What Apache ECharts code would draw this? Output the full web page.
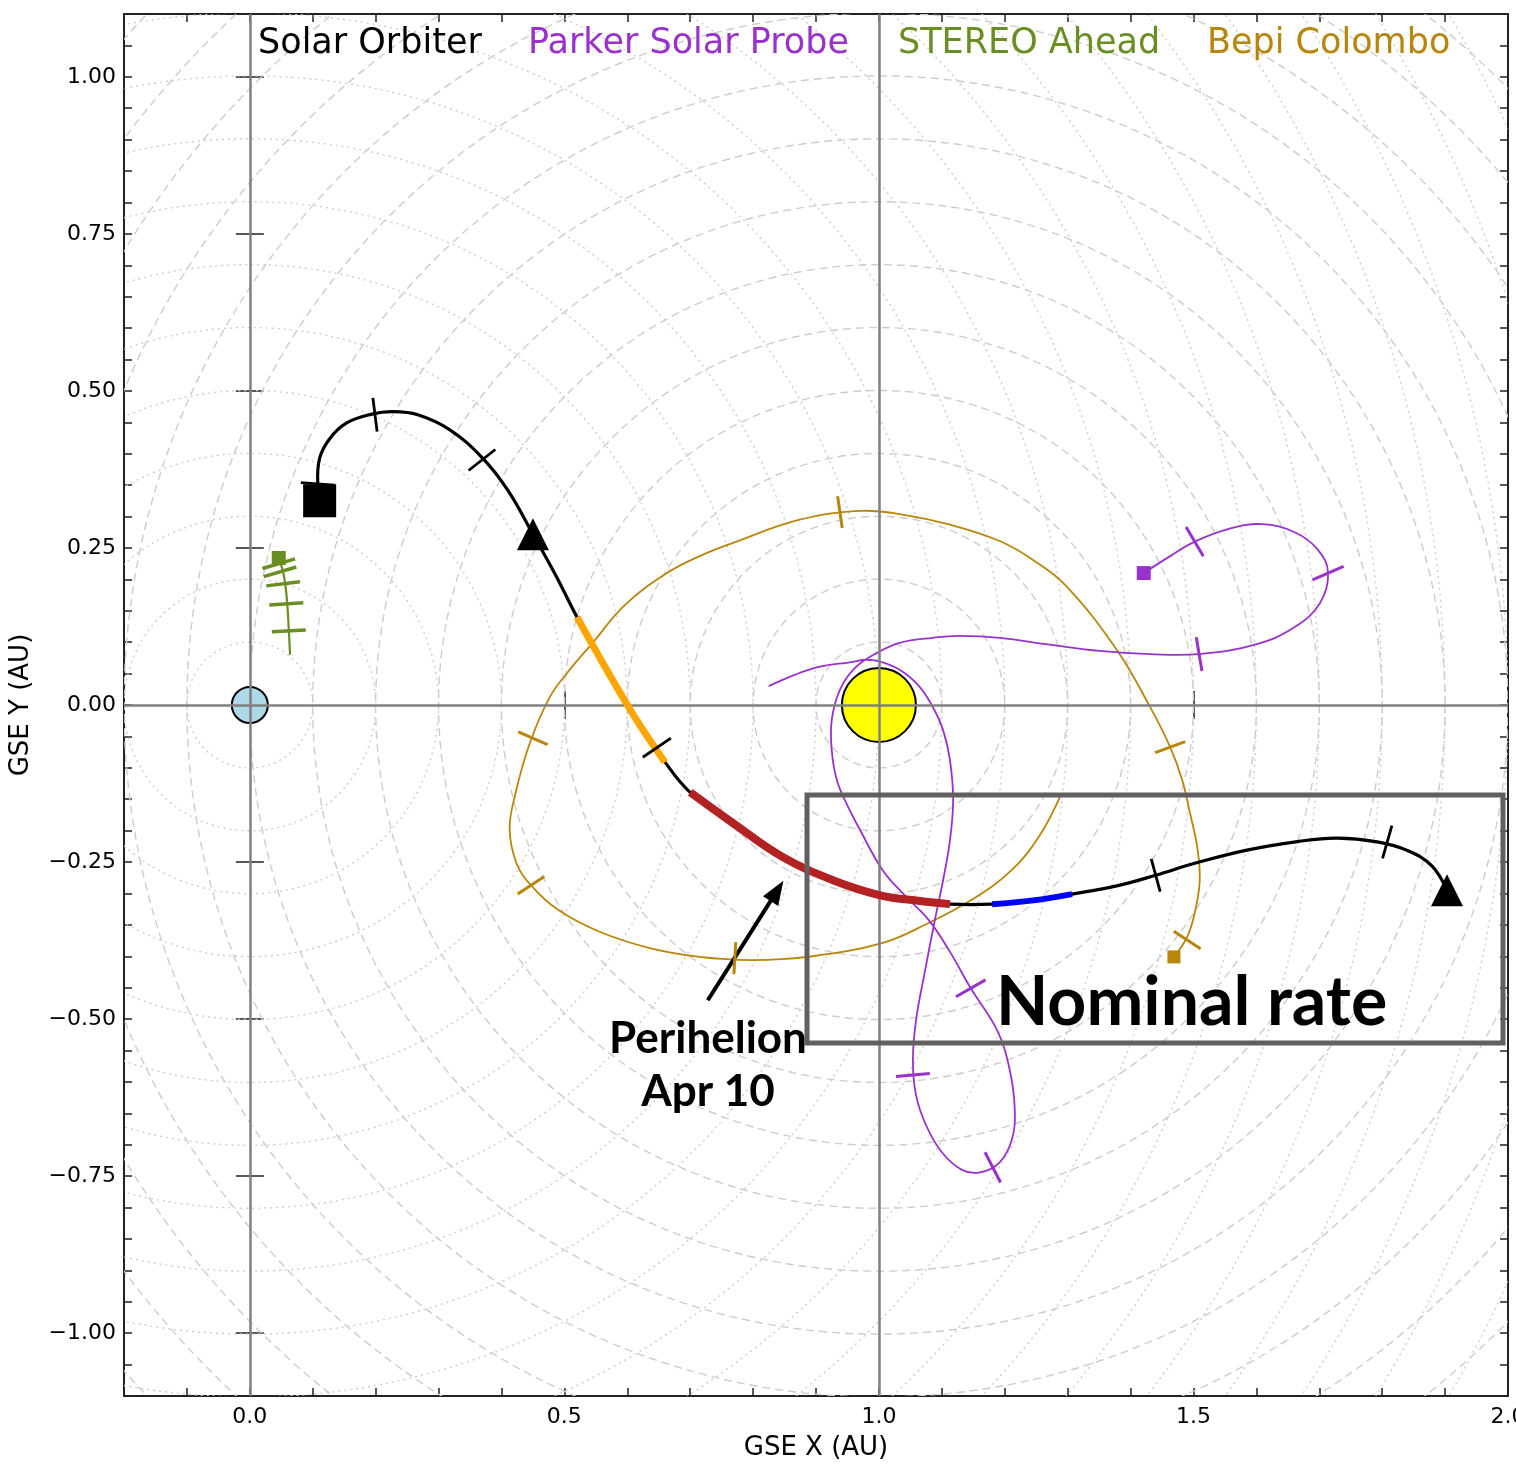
<!DOCTYPE html>
<html><head><meta charset="utf-8">
<script src="https://cdn.jsdelivr.net/npm/echarts@6/dist/echarts.min.js"></script>
<style>html,body{margin:0;padding:0;background:#fff;overflow:hidden}#c{width:1516px;height:1465px}</style>
</head><body><div id="c"></div>
<script>
// ---------------- data ----------------
const xLabelValues = [0, 0.5, 1.0, 1.5, 2.0];
const yLabelValues = [-1.0, -0.75, -0.5, -0.25, 0, 0.25, 0.5, 0.75, 1.0];
const sunCircleRadii = [0.1,0.2,0.3,0.4,0.5,0.6,0.7,0.8,0.9,1.0,1.1,1.2,1.3,1.4,1.5,1.6,1.7];
const earthCircleRadii = [0.1,0.2,0.3,0.4,0.5,0.6,0.7,0.8,0.9,1.0,1.1,1.2,1.3,1.4,1.5,1.6,1.7,1.8,1.9,2.0,2.1,2.2,2.3];
const sunPos = [[1.0, 0.0]];
const earthPos = [[0.0, 0.0]];

const soloPath = [
  [0.108,0.352],[0.111,0.393],[0.127,0.424],[0.154,0.449],[0.194,0.463],[0.226,0.467],
  [0.267,0.462],[0.318,0.438],[0.370,0.393],[0.410,0.342],[0.450,0.272],[0.486,0.207],
  [0.520,0.140],[0.552,0.083],[0.583,0.029],[0.620,-0.032],[0.660,-0.091],
  [0.700,-0.139],[0.768,-0.188],[0.847,-0.242],[0.927,-0.279],[1.002,-0.303],[1.065,-0.312],[1.113,-0.317],
  [1.180,-0.317],[1.245,-0.311],[1.307,-0.301],
  [1.378,-0.288],[1.440,-0.271],[1.502,-0.252],[1.585,-0.231],[1.668,-0.217],[1.728,-0.212],
  [1.792,-0.218],[1.841,-0.232],[1.879,-0.256],[1.903,-0.295]
];
const soloOrange = soloPath.slice(12, 17);
const soloRed = soloPath.slice(17, 24);
const soloBlue = soloPath.slice(24, 27);
const soloStart = [[0.111, 0.325]];
const soloTriangles = [[0.450, 0.272], [1.903, -0.295]];
const soloTicks = [[0.108,0.352],[0.199,0.462],[0.369,0.390],[0.647,-0.068],[1.440,-0.271],[1.808,-0.218]];

const pspPath = [
  [1.421,0.210],[1.463,0.237],[1.502,0.260],[1.555,0.280],[1.609,0.288],[1.661,0.275],[1.698,0.247],
  [1.714,0.210],[1.701,0.162],[1.661,0.124],[1.598,0.096],[1.509,0.081],[1.431,0.081],[1.351,0.086],
  [1.272,0.096],[1.192,0.107],[1.129,0.110],[1.086,0.107],[1.033,0.099],[0.997,0.083],[0.962,0.059],
  [0.938,0.024],[0.925,-0.024],[0.925,-0.072],[0.933,-0.119],[0.948,-0.156],[0.970,-0.199],[1.006,-0.263],
  [1.041,-0.303],[1.079,-0.342],[1.113,-0.393],[1.146,-0.451],[1.188,-0.518],[1.208,-0.581],[1.216,-0.645],
  [1.211,-0.693],[1.192,-0.728],[1.161,-0.744],[1.132,-0.740],[1.100,-0.712],[1.075,-0.669],[1.059,-0.621],
  [1.054,-0.565],[1.059,-0.502],[1.072,-0.430],[1.089,-0.342],[1.102,-0.279],[1.113,-0.215],[1.118,-0.151],
  [1.113,-0.088],[1.102,-0.040],[1.084,0.000],[1.062,0.032],[1.033,0.056],[1.006,0.068],[0.981,0.072],
  [0.954,0.068],[0.906,0.061],[0.866,0.048],[0.825,0.030]
];
const pspStart = [[1.421, 0.210]];
const pspTicks = [[1.502,0.260],[1.714,0.210],[1.509,0.081],[1.146,-0.451],[1.181,-0.736],[1.054,-0.589]];

const bepiPath = [
  [1.469,-0.401],[1.490,-0.369],[1.502,-0.331],[1.510,-0.279],[1.506,-0.226],[1.494,-0.170],[1.482,-0.119],
  [1.463,-0.067],[1.431,-0.003],[1.378,0.088],[1.299,0.188],[1.248,0.229],[1.192,0.261],[1.113,0.287],[1.033,0.304],
  [0.970,0.309],[0.874,0.295],[0.768,0.258],[0.715,0.237],[0.663,0.210],[0.596,0.159],[0.545,0.099],[0.506,0.053],
  [0.477,0.013],[0.445,-0.061],[0.421,-0.146],[0.413,-0.199],[0.424,-0.252],[0.447,-0.287],[0.490,-0.326],
  [0.556,-0.361],[0.636,-0.387],[0.715,-0.401],[0.798,-0.406],[0.886,-0.401],[1.005,-0.379],[1.079,-0.347],
  [1.146,-0.311],[1.211,-0.263],[1.256,-0.207],[1.288,-0.146]
];
const bepiStart = [[1.469, -0.401]];
const bepiTicks = [[0.938,0.307],[0.450,-0.053],[0.447,-0.287],[0.771,-0.403],[1.463,-0.067],[1.490,-0.374]];

const stereoPath = [[0.046,0.234],[0.054,0.207],[0.059,0.167],[0.062,0.119],[0.064,0.080]];
const stereoStart = [[0.046, 0.234]];
const stereoTicks = [[0.046,0.225],[0.048,0.212],[0.053,0.193],[0.058,0.161],[0.062,0.118]];

const arrowFrom = [0.728, -0.470];
const arrowTo = [0.838, -0.296];

const names = ['Solar Orbiter', 'Parker Solar Probe', 'STEREO Ahead', 'Bepi Colombo'];
const colors = ['#000000', '#9932CC', '#6B8E23', '#B8860B'];

// ---------------- chart ----------------
const chart = echarts.init(document.getElementById('c'), null, {renderer: 'canvas', width: 1516, height: 1465});
const FONT = 'DejaVu Sans';
const frame = {show: true, onZero: false, lineStyle: {color: '#222', width: 2}};

function near(v, step) { return Math.abs(v / step - Math.round(v / step)) < 1e-6; }
function fmtY(v) {
  if (Math.abs(v) < 1e-9) return '0.00';
  return (v < 0 ? '\u2212' : '') + Math.abs(v).toFixed(2);
}

function xAx(pos, major, labels, withName) {
  return {
    type: 'value', position: pos, min: -0.2, max: 2.0, interval: 0.1,
    axisLine: major ? {show: false} : frame,
    axisTick: major ? {show: true, inside: true, length: 14, customValues: xLabelValues, lineStyle: {color: '#222', width: 1.5}}
                    : {show: true, inside: true, length: 8, lineStyle: {color: '#222', width: 1.5}},
    axisLabel: labels ? {show: true, fontFamily: FONT, fontSize: 22, color: '#000', margin: 10, showMaxLabel: true, showMinLabel: true,
      formatter: v => near(v, 0.5) && v > -0.01 ? v.toFixed(1) : ''} : {show: false},
    splitLine: {show: false},
    name: withName ? 'GSE X (AU)' : '', nameLocation: 'middle', nameGap: 39,
    nameTextStyle: {fontFamily: FONT, fontSize: 26, color: '#000'}
  };
}
function yAx(pos, major, labels, withName) {
  return {
    type: 'value', position: pos, min: -1.1, max: 1.1, interval: 0.05,
    axisLine: major ? {show: false} : frame,
    axisTick: major ? {show: true, inside: true, length: 14, customValues: yLabelValues, lineStyle: {color: '#222', width: 1.5}}
                    : {show: true, inside: true, length: 8, lineStyle: {color: '#222', width: 1.5}},
    axisLabel: labels ? {show: true, fontFamily: FONT, fontSize: 22, color: '#000', margin: 8,
      formatter: v => near(v, 0.25) && Math.abs(v) <= 1.0001 ? fmtY(v) : ''} : {show: false},
    splitLine: {show: false},
    name: withName ? 'GSE Y (AU)' : '', nameLocation: 'middle', nameGap: 90,
    nameTextStyle: {fontFamily: FONT, fontSize: 26, color: '#000'}
  };
}

function circleSeries(centerData, dash, color) {
  return {
    type: 'custom', silent: true, clip: true, z: 1, data: centerData,
    encode: {x: 0, y: 1},
    renderItem(params, api) {
      const c = api.coord([api.value(0), api.value(1)]);
      const r = api.size([api.value(2), 0])[0];
      return {type: 'circle', shape: {cx: c[0], cy: c[1], r: r},
        style: {fill: 'none', stroke: color, lineWidth: 1.4, lineDash: dash}};
    }
  };
}

// smooth curve through the points of a trajectory, positioned by the axes
function pathSeries(name, data, color, width, z) {
  return {
    type: 'custom', name, silent: true, clip: true, z, data, encode: {x: 0, y: 1},
    renderItem(params, api) {
      if (params.dataIndex !== 0) return null;
      const pts = data.map(p => api.coord(p));
      return {type: 'polyline', shape: {points: pts, smooth: 0.4},
        style: {fill: null, stroke: color, lineWidth: width, lineJoin: 'round', lineCap: 'butt'}};
    }
  };
}

function tickSeries(name, path, ticks, color, len, width) {
  return {
    type: 'custom', name, silent: true, z: 7, data: ticks, encode: {x: 0, y: 1},
    renderItem(params, api) {
      const c = api.coord([api.value(0), api.value(1)]);
      const pts = path.map(p => api.coord(p));
      let best = 0, bd = Infinity;
      for (let i = 0; i < pts.length - 1; i++) {
        const a = pts[i], b = pts[i + 1];
        const dx = b[0] - a[0], dy = b[1] - a[1];
        const L2 = dx * dx + dy * dy || 1;
        let t = ((c[0] - a[0]) * dx + (c[1] - a[1]) * dy) / L2;
        t = Math.max(0, Math.min(1, t));
        const px = a[0] + t * dx - c[0], py = a[1] + t * dy - c[1];
        const d = px * px + py * py;
        if (d < bd) { bd = d; best = i; }
      }
      const a = pts[best], b = pts[best + 1];
      let tx = b[0] - a[0], ty = b[1] - a[1];
      const n = Math.hypot(tx, ty) || 1; tx /= n; ty /= n;
      const nx = -ty, ny = tx, h = len / 2;
      return {type: 'line', shape: {x1: c[0] - nx * h, y1: c[1] - ny * h, x2: c[0] + nx * h, y2: c[1] + ny * h},
        style: {stroke: color, lineWidth: width}};
    }
  };
}

function markerSeries(name, data, symbol, size, color, z, border) {
  return {type: 'scatter', name, data, symbol, symbolSize: size, silent: true, z,
    itemStyle: {color, borderColor: border ? '#000' : color, borderWidth: border ? 2 : 0, opacity: 1}};
}

const option = {
  animation: false,
  backgroundColor: '#ffffff',
  grid: {left: 124, top: 14, right: 8, bottom: 69, containLabel: false, outerBoundsMode: 'none'},
  xAxis: [xAx('bottom', false, true, true), xAx('top', false, false, false), xAx('bottom', true, false, false), xAx('top', true, false, false)],
  yAxis: [yAx('left', false, true, true), yAx('right', false, false, false), yAx('left', true, false, false), yAx('right', true, false, false)],
  series: [
    circleSeries(sunCircleRadii.map(r => [sunPos[0][0], sunPos[0][1], r]), [8, 5], '#cdcdcd'),
    circleSeries(earthCircleRadii.map(r => [earthPos[0][0], earthPos[0][1], r]), [2, 4], '#cdcdcd'),
    markerSeries('Sun', sunPos, 'circle', 74, '#FFFF00', 2, true),
    markerSeries('Earth', earthPos, 'circle', 36, '#ADD8E6', 2, true),
    {type: 'line', data: [], silent: true, z: 3,
      markLine: {silent: true, symbol: 'none', animation: false, label: {show: false},
        lineStyle: {color: '#808080', width: 2.5, type: 'solid'},
        data: [{xAxis: 0}, {xAxis: 1}, {yAxis: 0}]}},
    pathSeries(names[3], bepiPath, colors[3], 1.8, 4),
    pathSeries(names[1], pspPath, colors[1], 1.8, 4),
    pathSeries(names[2], stereoPath, colors[2], 2.2, 4),
    pathSeries(names[0], soloPath, colors[0], 3.2, 5),
    pathSeries(names[0], soloOrange, '#FFA500', 7, 6),
    pathSeries(names[0], soloRed, '#B22222', 8, 6),
    pathSeries(names[0], soloBlue, '#0000FF', 6, 6),
    tickSeries(names[0], soloPath, soloTicks, colors[0], 34, 2.8),
    tickSeries(names[1], pspPath, pspTicks, colors[1], 34, 3),
    tickSeries(names[3], bepiPath, bepiTicks, colors[3], 32, 3),
    tickSeries(names[2], stereoPath, stereoTicks, colors[2], 34, 3.5),
    markerSeries(names[0], soloStart, 'rect', 33, '#000', 8, false),
    markerSeries(names[0], soloTriangles, 'triangle', 32, '#000', 8, false),
    markerSeries(names[1], pspStart, 'rect', 14, colors[1], 8, false),
    markerSeries(names[3], bepiStart, 'rect', 13, colors[3], 8, false),
    markerSeries(names[2], stereoStart, 'rect', 14, colors[2], 8, false),
    {type: 'line', data: [], silent: true, z: 9,
      markLine: {silent: true, animation: false, symbol: ['none', 'triangle'], symbolSize: [18, 24],
        label: {show: false}, lineStyle: {color: '#000', width: 4, type: 'solid'},
        data: [[{coord: arrowFrom}, {coord: arrowTo}]]}}
  ],
  graphic: [
    {type: 'text', left: 258, top: 26, z: 100, style: {text: names[0], fill: colors[0], font: '35px "DejaVu Sans"'}},
    {type: 'text', left: 528, top: 26, z: 100, style: {text: names[1], fill: colors[1], font: '35px "DejaVu Sans"'}},
    {type: 'text', left: 898, top: 26, z: 100, style: {text: names[2], fill: colors[2], font: '35px "DejaVu Sans"'}},
    {type: 'text', left: 1207, top: 26, z: 100, style: {text: names[3], fill: colors[3], font: '35px "DejaVu Sans"'}},
    {type: 'rect', z: 100, shape: {x: 807, y: 795, width: 696, height: 248},
      style: {fill: 'none', stroke: '#606060', lineWidth: 5}},
    {type: 'text', left: 996, top: 969, z: 100, style: {text: 'Nominal rate', fill: '#000', font: 'bold 68px Lato'}},
    {type: 'text', x: 708, y: 1039, z: 100, style: {text: 'Perihelion', fill: '#000', font: 'bold 44px Lato', align: 'center', verticalAlign: 'middle'}},
    {type: 'text', x: 708, y: 1092, z: 100, style: {text: 'Apr 10', fill: '#000', font: 'bold 44px Lato', align: 'center', verticalAlign: 'middle'}}
  ]
};
chart.setOption(option);
</script>
</body></html>
